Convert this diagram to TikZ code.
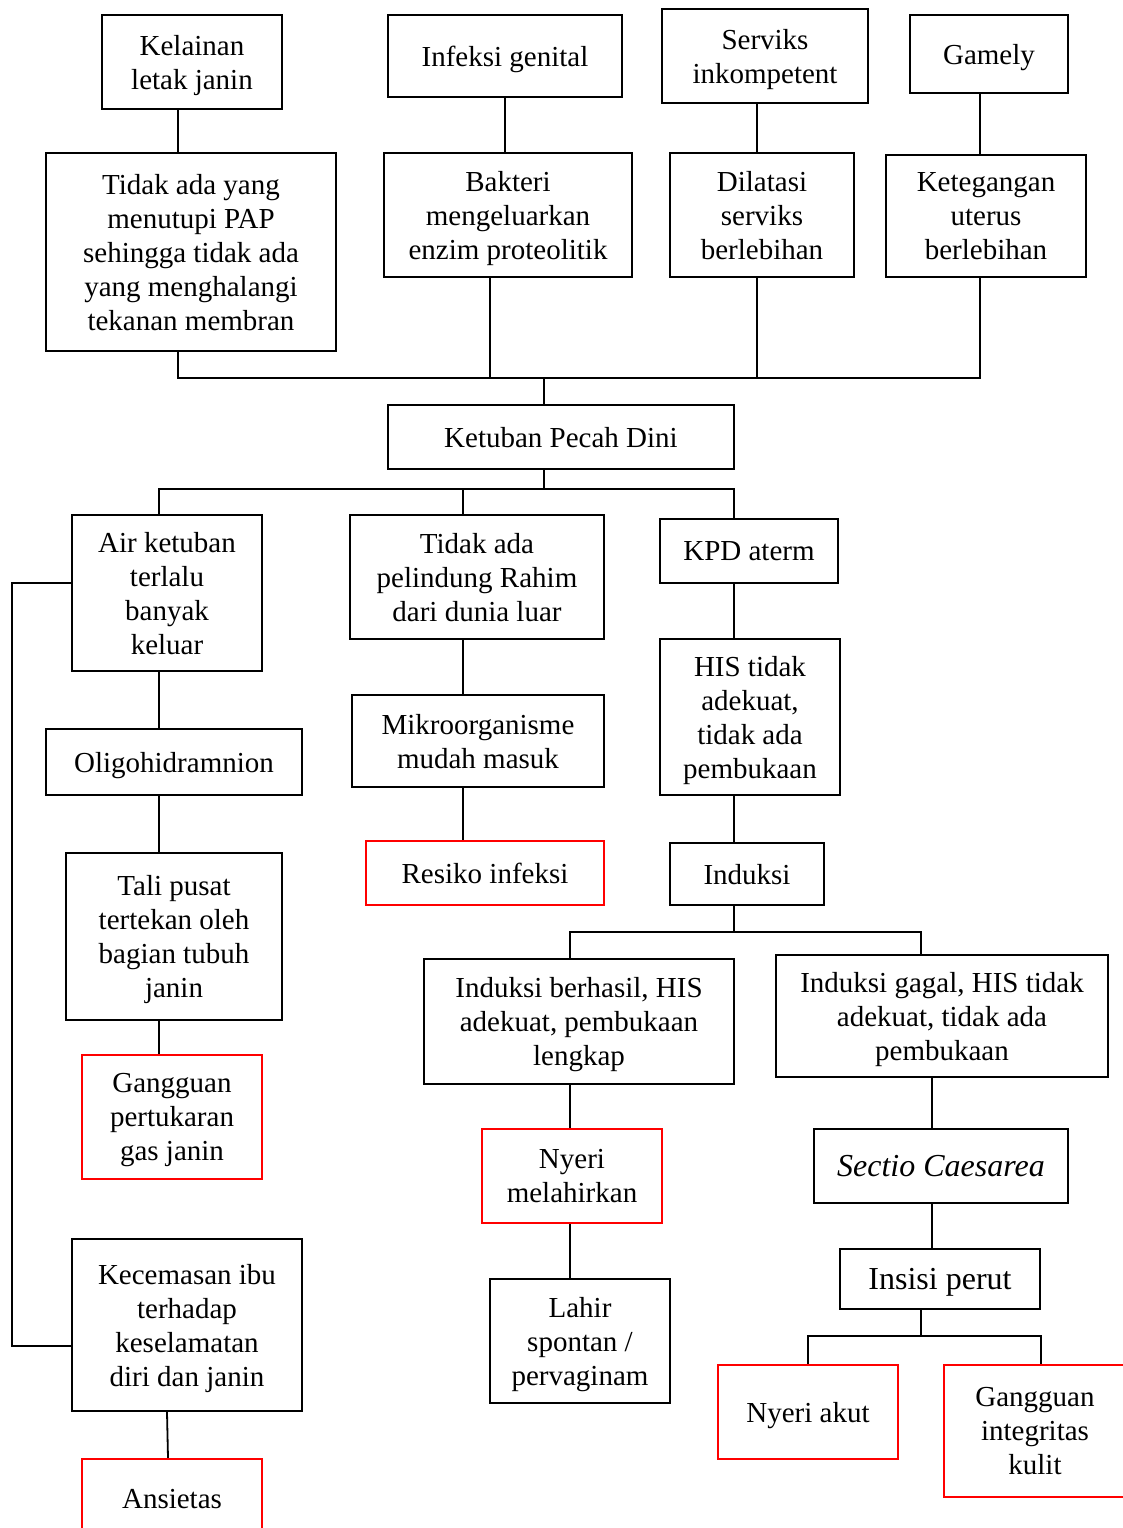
\documentclass[tikz,border=0pt]{standalone}
\usepackage{fontspec}
\setmainfont{Liberation Serif}
\usepackage{tikz}
\usetikzlibrary{positioning}

\tikzset{
	kotak/.style={draw, line width=2.4pt, align=center, inner sep=0pt,
		text depth=-2pt, font=\fontsize{29}{34}\selectfont},
	kotakmerah/.style={kotak, draw=red},
	garis/.style={line width=1.8pt},
}

\begin{document}
\begin{tikzpicture}[x=1pt, y=-1pt]
	
	% ------------------------------------------------
	% Ensure the dimensions of graphic are appropriate
	\useasboundingbox (0,0) rectangle (1122,1528);
	
	% ------------------------------------------------
	% Relevant coordinates
	\coordinate (BusA1) at (178,378);
	\path (BusA1) +(312,0) coordinate (BusA2);
	\path (BusA1) +(579,0) coordinate (BusA3);
	\path (BusA1) +(802,0) coordinate (BusA4);
	\path (BusA1) +(366,0) coordinate (BusATengah);
	
	\coordinate (BusB1) at (159,489);
	\path (BusB1) +(304,0) coordinate (BusB2);
	\path (BusB1) +(575,0) coordinate (BusB3);
	\path (BusB1) +(385,0) coordinate (BusBTengah);
	
	\coordinate (BusC1) at (570,932);
	\path (BusC1) +(351,0) coordinate (BusC2);
	\path (BusC1) +(164,0) coordinate (BusCTengah);
	
	\coordinate (BusD1) at (808,1336);
	\path (BusD1) +(233,0) coordinate (BusD2);
	\path (BusD1) +(113,0) coordinate (BusDTengah);
	\coordinate (KolomSC) at (932,1100);
	
	% Loop on the left side
	\coordinate (LoopAtas) at (12,583);
	\coordinate (LoopBawah) at (12,1346);
	
	%%%%%%%%%%%%%%%%%%%%%%%%%%%%%%%%%%%%%%%%%
	% Causes
	\node[kotak, minimum width=180, minimum height=94] (Kelainan) at (192,62) {Kelainan\\letak janin};
	\node[kotak, minimum width=234, minimum height=82] (Infeksi) at (505,56) {Infeksi genital};
	\node[kotak, minimum width=206, minimum height=94] (Serviks) at (765,56) {Serviks\\inkompetent};
	\node[kotak, minimum width=158, minimum height=78] (Gamely) at (989,54) {Gamely};
	
	\node[kotak, minimum width=290, minimum height=198] (TidakPAP) at (191,252) {Tidak ada yang\\menutupi PAP\\sehingga tidak ada\\yang menghalangi\\tekanan membran};
	\node[kotak, minimum width=248, minimum height=124] (Bakteri) at (508,215) {Bakteri\\mengeluarkan\\enzim proteolitik};
	\node[kotak, minimum width=184, minimum height=124] (Dilatasi) at (762,215) {Dilatasi\\serviks\\berlebihan};
	\node[kotak, minimum width=200, minimum height=122] (Ketegangan) at (986,216) {Ketegangan\\uterus\\berlebihan};
	
	\node[kotak, minimum width=346, minimum height=64] (Ketuban) at (561,437) {Ketuban Pecah Dini};
	
	% Left branch
	\node[kotak, minimum width=190, minimum height=156] (AirKetuban) at (167,593) {Air ketuban\\terlalu\\banyak\\keluar};
	\node[kotak, minimum width=256, minimum height=66] (Oligo) at (174,762) {Oligohidramnion};
	\node[kotak, minimum width=216, minimum height=167] (Tali) at (174,936.5) {Tali pusat\\tertekan oleh\\bagian tubuh\\janin};
	\node[kotakmerah, minimum width=180, minimum height=124] (GangguanGas) at (172,1117) {Gangguan\\pertukaran\\gas janin};
	\node[kotak, minimum width=230, minimum height=172] (Kecemasan) at (187,1325) {Kecemasan ibu\\terhadap\\keselamatan\\diri dan janin};
	\node[kotakmerah, minimum width=180, minimum height=79] (Ansietas) at (172,1498.5) {Ansietas};
	
	% Middle branch
	\node[kotak, minimum width=254, minimum height=124] (Pelindung) at (477,577) {Tidak ada\\pelindung Rahim\\dari dunia luar};
	\node[kotak, minimum width=252, minimum height=92] (Mikro) at (478,741) {Mikroorganisme\\mudah masuk};
	\node[kotakmerah, minimum width=238, minimum height=64] (Resiko) at (485,873) {Resiko infeksi};
	
	% Right branch
	\node[kotak, minimum width=178, minimum height=64] (KPD) at (749,551) {KPD aterm};
	\node[kotak, minimum width=180, minimum height=156] (HIS) at (750,717) {HIS tidak\\adekuat,\\tidak ada\\pembukaan};
	\node[kotak, minimum width=154, minimum height=62] (Induksi) at (747,874) {Induksi};
	
	\node[kotak, minimum width=310, minimum height=125] (Berhasil) at (579,1021.5) {Induksi berhasil, HIS\\adekuat, pembukaan\\lengkap};
	\node[kotakmerah, minimum width=180, minimum height=94] (NyeriLahir) at (572,1176) {Nyeri\\melahirkan};
	\node[kotak, minimum width=180, minimum height=124] (Lahir) at (580,1341) {Lahir\\spontan /\\pervaginam};
	
	\node[kotak, minimum width=332, minimum height=122] (Gagal) at (942,1016) {Induksi gagal, HIS tidak\\adekuat, tidak ada\\pembukaan};
	\node[kotak, minimum width=254, minimum height=74, font=\fontsize{32}{38}\selectfont\itshape] (Sectio) at (941,1166) {Sectio Caesarea};
	\node[kotak, minimum width=200, minimum height=60, font=\fontsize{32}{38}\selectfont] (Insisi) at (940,1279) {Insisi perut};
	\node[kotakmerah, minimum width=180, minimum height=94] (NyeriAkut) at (808,1412) {Nyeri akut};
	\node[kotakmerah, minimum width=182, minimum height=132] (GangguanKulit) at (1035,1431) {Gangguan\\integritas\\kulit};
	
	%%%%%%%%%%%%%%%%%%%%%%%%%%%%%%%%%%%%%%%%%
	% Connectors
	\draw[garis] (Kelainan.south -| BusA1) -- (TidakPAP.north -| BusA1);
	\draw[garis] (Infeksi.south) -- (Infeksi.south |- Bakteri.north);
	\draw[garis] (Serviks.south -| BusA3) -- (Dilatasi.north -| BusA3);
	\draw[garis] (Gamely.south -| BusA4) -- (Ketegangan.north -| BusA4);
	
	\draw[garis] (TidakPAP.south -| BusA1) -- (BusA1) -- (BusA4) -- (Ketegangan.south -| BusA4);
	\draw[garis] (Bakteri.south -| BusA2) -- (BusA2);
	\draw[garis] (Dilatasi.south -| BusA3) -- (BusA3);
	\draw[garis] (BusATengah) -- (Ketuban.north -| BusATengah);
	
	\draw[garis] (Ketuban.south -| BusBTengah) -- (BusBTengah);
	\draw[garis] (AirKetuban.north -| BusB1) -- (BusB1) -- (BusB3) -- (KPD.north -| BusB3);
	\draw[garis] (BusB2) -- (Pelindung.north -| BusB2);
	
	% Left branch
	\draw[garis] (AirKetuban.south -| BusB1) -- (Oligo.north -| BusB1);
	\draw[garis] (Oligo.south -| BusB1) -- (Tali.north -| BusB1);
	\draw[garis] (Tali.south -| BusB1) -- (GangguanGas.north -| BusB1);
	\draw[garis] (AirKetuban.west |- LoopAtas) -- (LoopAtas) -- (LoopBawah) -- (Kecemasan.west |- LoopBawah);
	\draw[garis] ([xshift=-20pt]Kecemasan.south) -- ([xshift=-4pt]Ansietas.north);
	
	% Middle branch
	\draw[garis] (Pelindung.south -| BusB2) -- (Mikro.north -| BusB2);
	\draw[garis] (Mikro.south -| BusB2) -- (Resiko.north -| BusB2);
	
	% Right branch
	\draw[garis] (KPD.south -| BusB3) -- (HIS.north -| BusB3);
	\draw[garis] (HIS.south -| BusB3) -- (Induksi.north -| BusB3);
	\draw[garis] (Induksi.south -| BusCTengah) -- (BusCTengah);
	\draw[garis] (Berhasil.north -| BusC1) -- (BusC1) -- (BusC2) -- (Gagal.north -| BusC2);
	
	\draw[garis] (Berhasil.south -| BusC1) -- (NyeriLahir.north -| BusC1);
	\draw[garis] (NyeriLahir.south -| BusC1) -- (Lahir.north -| BusC1);
	
	\draw[garis] (Gagal.south -| KolomSC) -- (Sectio.north -| KolomSC);
	\draw[garis] (Sectio.south -| KolomSC) -- (Insisi.north -| KolomSC);
	\draw[garis] (Insisi.south -| BusDTengah) -- (BusDTengah);
	\draw[garis] (NyeriAkut.north -| BusD1) -- (BusD1) -- (BusD2) -- (GangguanKulit.north -| BusD2);
	
\end{tikzpicture}
\end{document}
